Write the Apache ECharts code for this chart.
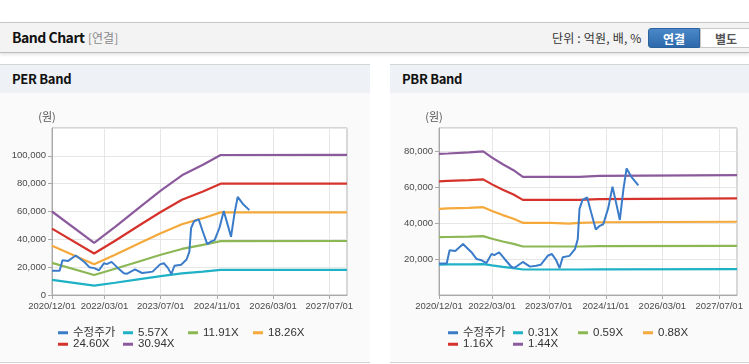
<!DOCTYPE html>
<html><head><meta charset="utf-8">
<script src="https://cdn.jsdelivr.net/npm/echarts@6/dist/echarts.min.js"></script>
<style>
body{margin:0;width:749px;height:364px;overflow:hidden;background:#fff;position:relative;font-family:'Noto Sans CJK KR','Liberation Sans',sans-serif;}
#hdr{position:absolute;left:0;top:22px;width:749px;height:29px;background:#f3f3f3;border-top:1px solid #c6c6c6;border-bottom:1px solid #bdbdbd;box-shadow:0 2px 3px rgba(0,0,0,0.10);}
#hdr .t{position:absolute;left:12px;top:0;line-height:29px;font-size:14px;font-weight:bold;color:#111;letter-spacing:-0.5px;}
#hdr .s{position:absolute;left:88px;top:0;line-height:29px;font-size:12px;color:#8a8a8a;}
#hdr .u{position:absolute;left:552px;top:0;line-height:29px;font-size:12px;color:#333;letter-spacing:0.2px;}
.btn{position:absolute;top:5px;height:20px;line-height:20px;text-align:center;font-size:12px;font-weight:bold;box-sizing:border-box;}
.on{left:648px;width:52px;background:linear-gradient(#4a88c8,#2d69ab);color:#fff;border:1px solid #2b619c;border-radius:3px 0 0 3px;}
.off{left:700px;width:52px;background:#fff;color:#555;border:1px solid #c8c8c8;}
.panel{position:absolute;top:64px;height:297px;background:#fafafa;border-top:1px solid #d4d4d4;border-bottom:1px solid #d4d4d4;}
.panel .ttl{height:28px;line-height:28px;background:#eef1f6;padding-left:12px;font-size:13px;font-weight:bold;color:#111;letter-spacing:-0.3px;}
.chart{position:absolute;top:93px;height:269px;}
</style></head>
<body>
<div id="hdr"><span class="t">Band Chart</span><span class="s">[연결]</span><span class="u">단위 : 억원, 배, %</span><div class="btn on">연결</div><div class="btn off">별도</div></div>
<div class="panel" style="left:0;width:370px;"><div class="ttl">PER Band</div></div>
<div class="panel" style="left:390px;width:359px;"><div class="ttl">PBR Band</div></div>
<div id="c1" class="chart" style="left:0;width:370px;"></div>
<div id="c2" class="chart" style="left:390px;width:359px;"></div>
<script>
// ---- data ----
const tickLabels = ['2020/12/01','2022/03/01','2023/07/01','2024/11/01','2026/03/01','2027/07/01'];
const axisStart = '2020/12/01';
const axisEnd = '2027/12/01';

const priceName = '수정주가';
const priceDates = ['2020/12/01','2021/02/05','2021/03/02','2021/04/20','2021/05/05','2021/06/25','2021/08/01','2021/09/10','2021/10/20','2021/12/01',
  '2022/01/12','2022/02/25','2022/03/20','2022/05/01','2022/06/15','2022/08/15','2022/09/10','2022/11/20','2023/01/20','2023/03/15',
  '2023/04/22','2023/06/25','2023/07/28','2023/09/01','2023/10/01','2023/10/28','2023/12/25','2024/02/10','2024/03/05','2024/03/20',
  '2024/04/15','2024/05/25','2024/06/28','2024/08/07','2024/09/10','2024/10/10','2024/11/22','2024/12/28','2025/02/01','2025/03/01',
  '2025/04/01','2025/04/28','2025/06/10','2025/08/07'];
const priceValues = [17500,17500,24900,24500,25200,28400,26000,23500,20000,19300,
  17800,22900,22200,23800,20200,15600,15200,18400,15800,16300,
  16800,22000,22800,19500,15000,21000,21800,25500,31000,48000,
  53000,54300,46000,36500,38500,39400,48500,60300,50200,41800,
  59000,70500,65600,61000];

const perNames = ['5.57X','11.91X','18.26X','24.60X','30.94X'];
const perDates = ['2020/12/01','2021/12/01','2022/06/01','2023/01/01','2023/07/01','2024/01/01','2024/07/01','2024/12/01','2027/12/01'];
const per557  = [10900, 6750, 8800,11400,13500,15500,16850,18100,18100];
const per1191 = [23100,14400,18900,24300,28900,33100,36000,38700,38800];
const per1826 = [35400,22100,28900,37300,44300,50800,55200,59400,59400];
const per2460 = [47700,29800,39000,50300,59600,68400,74400,80000,80100];
const per3094 = [60000,37500,49000,63200,75000,86000,93600,100600,100700];

const pbrNames = ['0.31X','0.59X','0.88X','1.16X','1.44X'];
const pbrDates = ['2020/12/01','2021/02/15','2021/03/01','2021/08/15','2021/09/01','2021/12/15','2022/03/01','2022/06/01','2022/09/01','2022/11/20',
  '2023/07/20','2023/08/01','2023/12/20','2024/01/01','2024/03/20','2024/04/01','2024/09/01','2024/09/15','2027/12/01'];
const pbr031 = [16900,17000,17100,17100,17200,17200,16500,15700,15000,14200,14200,14200,14200,14200,14200,14300,14300,14400,14400];
const pbr059 = [32200,32300,32500,32500,32800,32800,31300,29800,28500,27000,27000,27000,27000,27000,27000,27200,27200,27400,27400];
const pbr088 = [48000,48200,48500,48500,48900,48900,46800,44500,42500,40200,40200,39700,39700,40200,40200,40500,40500,40800,40800];
const pbr116 = [63300,63500,63900,64000,64400,64400,61600,58600,56000,53000,53000,53000,53000,53000,53000,53400,53400,53800,53800];
const pbr144 = [78600,78800,79300,79400,80000,80000,76500,72800,69500,65800,65800,65800,65800,65800,65800,66300,66300,66800,66800];

const colors = ['#3b7cca','#1fb1c6','#8cb755','#f5a93b','#d5322b','#8b5a9c'];

// ---- helpers ----
function ts(s){ const p = s.split('/').map(Number); return new Date(p[0], p[1]-1, p[2]).getTime(); }
function pad(n){ return (n<10?'0':'')+n; }
function fmtDate(v){ const d = new Date(v); return d.getFullYear()+'/'+pad(d.getMonth()+1)+'/'+pad(d.getDate()); }
function pairs(dates, vals){ return dates.map((d,i)=>[ts(d), vals[i]]); }
const tickVals = tickLabels.map(ts);
const axisFont = {fontFamily:'Liberation Sans, Arial, sans-serif', fontSize:9.5, color:'#4a4a4a'};

function buildOption(o){
  const names = [priceName].concat(o.names);
  const series = [];
  o.bands.forEach((vals, k)=>{
    series.push({name:o.names[k], type:'line', data:pairs(o.bandDates, vals), showSymbol:false, symbol:'none',
      lineStyle:{width:2.2, color:colors[k+1]}, itemStyle:{color:colors[k+1]}, z:2, silent:true});
  });
  series.push({name:priceName, type:'line', data:pairs(priceDates, priceValues), showSymbol:false, symbol:'none',
    lineStyle:{width:2, color:colors[0]}, itemStyle:{color:colors[0]}, z:5, silent:true});
  return {
    animation:false,
    grid:{left:o.left, top:35, width:o.width, height:167, show:true, borderColor:'#b3b3b3', borderWidth:1, backgroundColor:'#ffffff'},
    xAxis:{type:'value', min:ts(axisStart), max:ts(axisEnd), scale:true,
      axisLine:{show:true, lineStyle:{color:'#a9a9a9'}},
      axisTick:{show:true, length:4, lineStyle:{color:'#a9a9a9'}, customValues:tickVals},
      axisLabel:{...axisFont, margin:6, customValues:tickVals, formatter:(v)=>fmtDate(v), hideOverlap:false},
      splitLine:{show:true, lineStyle:{color:'#e6e6e6'}}},
    yAxis:{type:'value', min:0, max:o.max, interval:20000,
      name:'(원)', nameLocation:'end', nameGap:6,
      nameTextStyle:{fontFamily:'Noto Sans CJK KR', fontSize:11, color:'#555', align:'center', padding:[0,10,0,0]},
      axisLine:{show:true, lineStyle:{color:'#a9a9a9'}},
      axisTick:{show:true, length:4, lineStyle:{color:'#a9a9a9'}},
      axisLabel:{...axisFont, margin:6, showMaxLabel:false, showMinLabel:o.showMin,
        formatter:(v)=>v.toLocaleString('en-US')},
      splitLine:{show:true, lineStyle:{color:'#e6e6e6'}}},
    legend:{left:o.legendLeft, top:229, itemWidth:10, itemHeight:3, itemGap:0, icon:'rect',
      data:[names[0],names[1],names[2],names[3],'',names[4],names[5]],
      formatter:(n)=>'{a|'+n+'}',
      textStyle:{rich:{a:{width:50, lineHeight:13.3, fontSize:11.5, color:'#333', fontFamily:'Liberation Sans, Noto Sans CJK KR, sans-serif'}}},
      selectedMode:false},
    series:series
  };
}

const c1 = echarts.init(document.getElementById('c1'));
c1.setOption(buildOption({names:perNames, bandDates:perDates, bands:[per557,per1191,per1826,per2460,per3094],
  left:52, width:295, max:120000, showMin:true, legendLeft:53}));
const c2 = echarts.init(document.getElementById('c2'));
c2.setOption(buildOption({names:pbrNames, bandDates:pbrDates, bands:[pbr031,pbr059,pbr088,pbr116,pbr144],
  left:49, width:298, max:93000, showMin:false, legendLeft:53}));
</script>
</body></html>
